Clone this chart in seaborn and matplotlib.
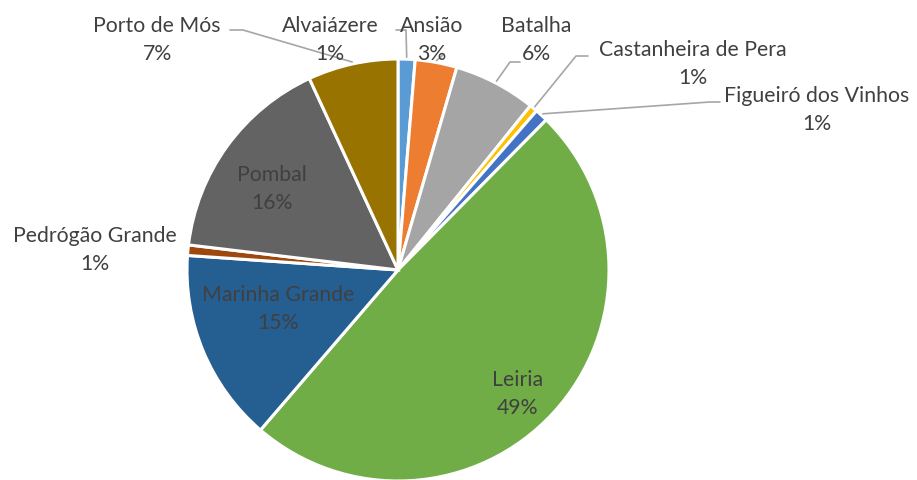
import numpy as np
import matplotlib
matplotlib.use("Agg")
import matplotlib.pyplot as plt
import seaborn as sns

sns.set_theme(style="white")
plt.rcParams["font.family"] = ["Lato", "DejaVu Sans"]

# ── Data ──────────────────────────────────────────────────────────────────────
concelhos = ["Alvaiázere", "Ansião", "Batalha", "Castanheira de Pera",
             "Figueiró dos Vinhos", "Leiria", "Marinha Grande",
             "Pedrógão Grande", "Pombal", "Porto de Mós"]
shares = [1.3, 3.2, 6.3, 0.6, 1.0, 48.9, 14.8, 0.8, 16.2, 6.9]
colors = ["#5B9BD5", "#ED7D31", "#A5A5A5", "#FFC000", "#4472C4",
          "#70AD47", "#255E91", "#9E480E", "#636363", "#997300"]

# ── Layout (pixel space, y up) ────────────────────────────────────────────────
W, H = 917, 480
CX, CY, R = 398, H - 270, 211
TXT = "#404040"
LINE = "#A6A6A6"
FS = 15.3

# label centre (x, y from top) and leader elbow (None = no leader)
label_pos = {
    "Alvaiázere":          ((330, 26), [(396, 30), (406, 30)]),
    "Ansião":              ((432, 26), [(443, 55)]),
    "Batalha":             ((536, 26), [(520, 62), (510, 62)]),
    "Castanheira de Pera": ((693, 50), [(588, 56), (576, 56)]),
    "Figueiró dos Vinhos": ((817, 96), [(720, 102), (710, 102)]),
    "Leiria":              ((518, 380), None),
    "Marinha Grande":      ((278, 295), None),
    "Pedrógão Grande":     ((95, 236), None),
    "Pombal":              ((272, 175), None),
    "Porto de Mós":        ((157, 26), [(230, 30), (243, 30)]),
}

fig = plt.figure(figsize=(W / 100, H / 100), dpi=100)
ax = fig.add_axes([0, 0, 1, 1])
wedges, _ = ax.pie(shares, colors=colors, startangle=90, counterclock=False,
                   center=(CX, CY), radius=R,
                   wedgeprops=dict(edgecolor="white", linewidth=2.2))
ax.set_xlim(0, W)
ax.set_ylim(0, H)
ax.set_aspect("equal")
ax.axis("off")

for wedge, name, val in zip(wedges, concelhos, shares):
    (tx, ty), leader = label_pos[name]
    ax.text(tx, H - ty, name, ha="center", va="center", fontsize=FS, color=TXT)
    ax.text(tx, H - ty - 28, f"{round(val)}%", ha="center", va="center",
            fontsize=FS, color=TXT)
    if leader:
        mid = np.deg2rad((wedge.theta1 + wedge.theta2) / 2)
        ex, ey = CX + (R + 2) * np.cos(mid), CY + (R + 2) * np.sin(mid)
        xs = [p[0] for p in leader] + [ex]
        ys = [H - p[1] for p in leader] + [ey]
        ax.plot(xs, ys, color=LINE, lw=1.2)

fig.savefig("out.png", dpi=100)
plt.close()
